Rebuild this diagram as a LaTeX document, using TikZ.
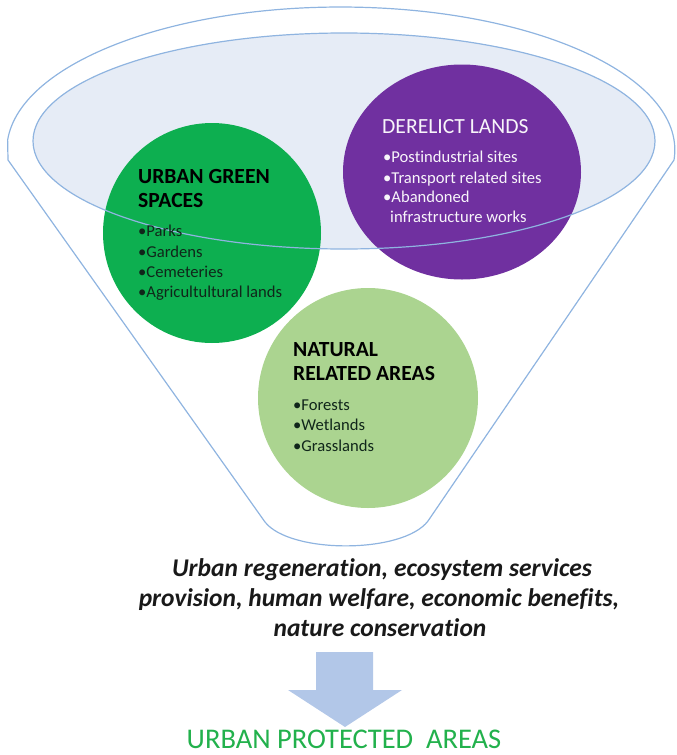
\documentclass[tikz,border=0pt]{standalone}
\usepackage{fontspec}
\setmainfont{Carlito}[Ligatures=NoCommon]
\usetikzlibrary{shapes.geometric}
\definecolor{outline}{HTML}{8FB4E0}
\definecolor{innerfill}{HTML}{E6ECF6}
\definecolor{ugreen}{HTML}{0DAF50}
\definecolor{dpurple}{HTML}{7030A0}
\definecolor{lgreen}{HTML}{ABD490}
\definecolor{arrowblue}{HTML}{B2C7E8}
\definecolor{titlegreen}{HTML}{22B14C}
\definecolor{listdark}{HTML}{10261A}
\begin{document}
\begin{tikzpicture}[x=1pt,y=-1pt,
  funnel/.style={draw=outline, line width=1.2pt, line join=round},
  blob/.style={ellipse, inner sep=0pt, draw=none},
  ttl/.style={anchor=base west, inner sep=0pt, font=\fontsize{21.6}{24}\selectfont\bfseries},
  itm/.style={anchor=base west, inner sep=0pt, font=\fontsize{16.6}{20}\selectfont},
  concl/.style={anchor=base, inner sep=0pt, font=\fontsize{25.5}{30}\selectfont\bfseries\itshape, text=black!90}
]
\useasboundingbox (0,0) rectangle (677,755);

% outer funnel
\draw[funnel] (8,160) -- (265,522) .. controls (290,554) and (403,554) .. (428,521) -- (674,160)
  arc[start angle=4, end angle=-176, x radius=334, y radius=143] -- cycle;

% inner ellipse fill
\fill[innerfill] (344,141) ellipse [x radius=311, y radius=108];

% circles
\node[blob, fill=ugreen, minimum width=218pt, minimum height=220pt] (ug) at (212,233) {};
\node[blob, fill=dpurple, minimum width=238pt, minimum height=215pt] (dl) at (462,172) {};
\node[blob, fill=lgreen, minimum width=220pt, minimum height=220pt] (na) at (368,398) {};

% inner ellipse outline on top
\draw[funnel] (344,141) ellipse [x radius=311, y radius=108];

% urban green spaces
\node[ttl, text=black] (ug1) at (138,183) {URBAN GREEN};
\node[ttl, text=black] (ug2) at (138,207) {SPACES};
\node[itm, text=listdark] (ug3) at (138,236) {•Parks};
\node[itm, text=listdark] (ug4) at (138,257) {•Gardens};
\node[itm, text=listdark] (ug5) at (138,277) {•Cemeteries};
\node[itm, text=listdark] (ug6) at (138,297) {•Agricultultural lands};

% derelict lands
\node[ttl, font=\fontsize{21.6}{24}\selectfont, text=white!95!dpurple] (dl1) at (382,133) {DERELICT LANDS};
\node[itm, text=white!95!dpurple] (dl2) at (383,162) {•Postindustrial sites};
\node[itm, text=white!95!dpurple] (dl3) at (383,183) {•Transport related sites};
\node[itm, text=white!95!dpurple] (dl4) at (383,202) {•Abandoned};
\node[itm, text=white!95!dpurple] (dl5) at (390,222) {infrastructure works};

% natural related areas
\node[ttl, text=black] (na1) at (293,356) {NATURAL};
\node[ttl, text=black] (na2) at (293,380) {RELATED AREAS};
\node[itm, text=listdark] (na3) at (293,410) {•Forests};
\node[itm, text=listdark] (na4) at (293,430) {•Wetlands};
\node[itm, text=listdark] (na5) at (293,451) {•Grasslands};

% conclusion text
\node[concl] (c1) at (382,576) {Urban regeneration, ecosystem services};
\node[concl] (c2) at (379,606) {provision, human welfare, economic benefits,};
\node[concl] (c3) at (380,636) {nature conservation};

% block arrow
\fill[arrowblue] (316,652) -- (373,652) -- (373,690) -- (402,690) -- (345,727) -- (288,690) -- (316,690) -- cycle;

% result
\node[anchor=base, inner sep=0pt, font=\fontsize{28.5}{30}\selectfont, text=titlegreen] (upa) at (344,748) {URBAN PROTECTED\ \ AREAS};
\end{tikzpicture}
\end{document}
